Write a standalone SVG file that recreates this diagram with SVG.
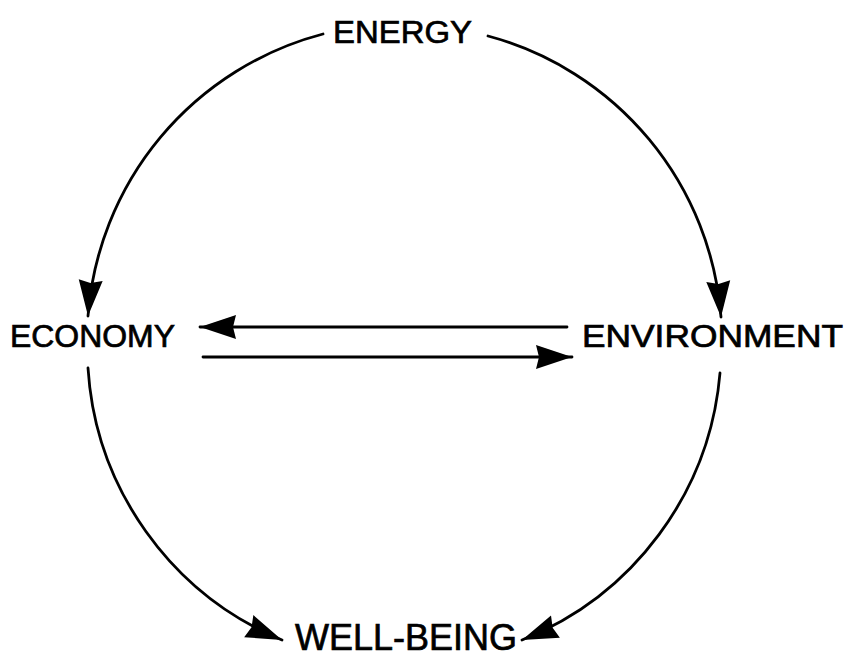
<svg xmlns="http://www.w3.org/2000/svg" width="851" height="667" viewBox="0 0 851 667">
<style>
.lbl{font-family:"Liberation Sans",Arial,Helvetica,sans-serif;fill:#000;stroke:#000;stroke-width:0.7;}
.con{fill:none;stroke:#000;stroke-width:2.8;stroke-linecap:round;}
</style>
<defs>
<marker id="ah" markerUnits="userSpaceOnUse" markerWidth="44" markerHeight="28" refX="36" refY="12" orient="auto" overflow="visible">
<path d="M0,0 L36,12 L0,24 L3,12 z" fill="#000"/>
</marker>
</defs>
<rect width="851" height="667" fill="#fff"/>
<g id="connectors">
<path class="con" d="M323,34 A316,316 0 0 0 88,316" marker-end="url(#ah)"/>
<path class="con" d="M488,36 A316,316 0 0 1 721,317" marker-end="url(#ah)"/>
<path class="con" d="M88,368 A316,316 0 0 0 282,640" marker-end="url(#ah)"/>
<path class="con" d="M720,373 A316,316 0 0 1 522,640" marker-end="url(#ah)"/>
<path class="con" d="M567,327 L200,327" marker-end="url(#ah)"/>
<path class="con" d="M203,357 L572,357" marker-end="url(#ah)"/>
</g>
<g id="energy">
<text class="lbl" x="333" y="43" font-size="32" textLength="139" lengthAdjust="spacingAndGlyphs">ENERGY</text>
</g>
<g id="economy">
<text class="lbl" x="10" y="347" font-size="31" textLength="165" lengthAdjust="spacingAndGlyphs">ECONOMY</text>
</g>
<g id="environment">
<text class="lbl" x="582" y="347" font-size="31" textLength="261" lengthAdjust="spacingAndGlyphs">ENVIRONMENT</text>
</g>
<g id="well-being">
<text class="lbl" x="295" y="650" font-size="36" textLength="222" lengthAdjust="spacingAndGlyphs">WELL-BEING</text>
</g>
</svg>
